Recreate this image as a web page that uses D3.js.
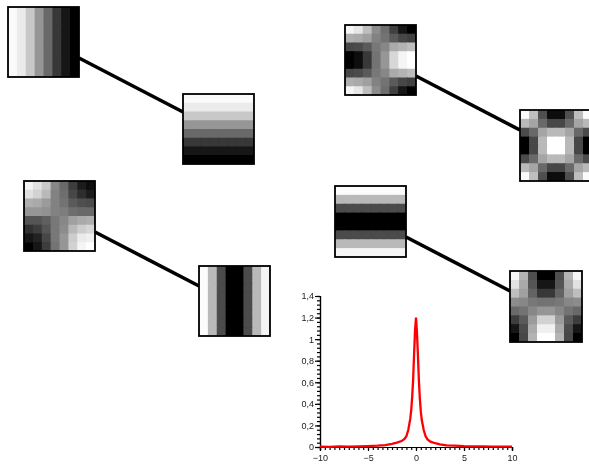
<!DOCTYPE html>
<html>
<head>
<meta charset="utf-8">
<script src="https://cdn.jsdelivr.net/npm/d3@7"></script>
<style>
  html, body { margin: 0; padding: 0; background: #fff; overflow: hidden; }
  svg { display: block; }
  text { font-family: "Liberation Sans", sans-serif; }
</style>
</head>
<body>
<svg id="chart"></svg>
<script>
// gray levels, 0 = black, 255 = white
const fallingStripes = [250, 235, 200, 150, 105, 55, 20, 0];
const evenStripes = [252, 185, 75, 0, 0, 75, 185, 245];

const diagonalCells = [
  [245, 225, 200, 135, 105, 60, 30, 10],
  [225, 210, 185, 130, 110, 70, 45, 30],
  [175, 170, 155, 130, 115, 90, 80, 75],
  [150, 150, 145, 130, 125, 110, 105, 105],
  [85, 85, 95, 120, 135, 160, 170, 175],
  [50, 60, 85, 120, 140, 185, 205, 215],
  [20, 35, 70, 120, 150, 205, 235, 240],
  [5, 20, 60, 115, 150, 210, 245, 255]
];
const sidewaysCells = [
  [245, 230, 190, 140, 110, 65, 20, 5],
  [175, 170, 160, 130, 115, 90, 70, 65],
  [70, 75, 90, 120, 135, 170, 180, 190],
  [0, 15, 55, 115, 150, 215, 245, 255],
  [0, 15, 55, 115, 150, 215, 245, 255],
  [70, 75, 90, 120, 135, 170, 180, 190],
  [175, 170, 160, 130, 115, 90, 70, 65],
  [245, 230, 190, 140, 110, 65, 20, 5]
];
const ringCells = [
  [250, 190, 80, 10, 10, 80, 190, 250],
  [185, 165, 105, 70, 70, 105, 165, 185],
  [75, 105, 165, 185, 185, 165, 105, 75],
  [0, 70, 185, 255, 255, 185, 70, 0],
  [0, 70, 185, 255, 255, 185, 70, 0],
  [75, 105, 165, 185, 185, 165, 105, 75],
  [185, 165, 105, 70, 70, 105, 165, 185],
  [250, 190, 80, 10, 10, 80, 190, 250]
];
const archCells = [
  [245, 180, 80, 5, 5, 80, 180, 245],
  [225, 170, 85, 20, 20, 85, 170, 225],
  [190, 160, 100, 55, 55, 100, 160, 190],
  [140, 135, 120, 115, 115, 120, 135, 140],
  [105, 115, 135, 150, 150, 135, 115, 105],
  [60, 90, 155, 210, 210, 155, 90, 60],
  [20, 75, 170, 240, 240, 170, 75, 20],
  [0, 70, 180, 255, 255, 180, 70, 0]
];

// red curve
const curveX = [-10, -9, -8, -7, -6, -5, -4, -3.2, -2.5, -2, -1.5, -1.2, -1, -0.8, -0.6, -0.5, -0.4, -0.3, -0.2, -0.1, 0,
  0.1, 0.2, 0.3, 0.4, 0.5, 0.6, 0.8, 1, 1.2, 1.5, 2, 2.5, 3.2, 4, 5, 6, 7, 8, 9, 10];
const curveY = [0.003, 0.002, 0.005, 0.004, 0.006, 0.009, 0.012, 0.018, 0.03, 0.04, 0.055, 0.075, 0.1, 0.16, 0.26, 0.34, 0.46, 0.62, 0.86, 1.08, 1.2,
  1.06, 0.85, 0.62, 0.45, 0.33, 0.25, 0.16, 0.1, 0.07, 0.05, 0.035, 0.025, 0.016, 0.012, 0.008, 0.006, 0.005, 0.004, 0.003, 0.003];

const xTicks = [-10, -5, 0, 5, 10];
const yTicks = [0, 0.2, 0.4, 0.6, 0.8, 1, 1.2, 1.4];

const width = 589, height = 466;
const svg = d3.select("#chart").attr("width", width).attr("height", height);

svg.append("defs").append("filter").attr("id", "soft")
  .attr("filterUnits", "userSpaceOnUse")
  .attr("x", 0).attr("y", 0).attr("width", width).attr("height", height)
  .append("feGaussianBlur").attr("stdDeviation", 0.75);

const root = svg.append("g").attr("filter", "url(#soft)");

const asColumns = (row) => d3.range(8).map(() => row);
const asRows = (row) => row.map((v) => d3.range(8).map(() => v));

// left/top/right/bottom of each pattern box
const panels = {
  a: { box: [8, 7, 79, 77], cells: asColumns(fallingStripes) },
  b: { box: [183, 94, 254, 164], cells: asRows(fallingStripes) },
  c: { box: [24, 181, 95, 251], cells: diagonalCells },
  d: { box: [199, 266, 270, 336], cells: asColumns(evenStripes) },
  e: { box: [345, 25, 416, 95], cells: sidewaysCells },
  f: { box: [520, 110, 592, 181], cells: ringCells },
  h: { box: [335, 186, 406, 257], cells: asRows(evenStripes) },
  g: { box: [510, 271, 582, 342], cells: archCells }
};

// connector leaves the right side of one box and lands on the left side of the other
const links = [
  { from: "a", to: "b", y0: 58, y1: 112 },
  { from: "c", to: "d", y0: 232, y1: 286 },
  { from: "e", to: "f", y0: 76, y1: 130 },
  { from: "h", to: "g", y0: 237, y1: 291 }
];

root.selectAll(".link").data(links).join("line")
  .attr("class", "link")
  .attr("x1", (d) => panels[d.from].box[2])
  .attr("y1", (d) => d.y0)
  .attr("x2", (d) => panels[d.to].box[0])
  .attr("y2", (d) => d.y1)
  .attr("stroke", "#000")
  .attr("stroke-width", 3.6);

Object.values(panels).forEach((p) => {
  const [x0, y0, x1, y1] = p.box;
  const cx = d3.scaleBand().domain(d3.range(8)).range([x0, x1]);
  const cy = d3.scaleBand().domain(d3.range(8)).range([y0, y1]);
  const g = root.append("g");
  p.cells.forEach((row, j) => {
    g.selectAll(null).data(row).join("rect")
      .attr("x", (v, i) => cx(i))
      .attr("y", cy(j))
      // one pixel of overlap so no seams show between the cells
      .attr("width", (v, i) => Math.min(cx.bandwidth() + 1, x1 - cx(i)))
      .attr("height", Math.min(cy.bandwidth() + 1, y1 - cy(j)))
      .attr("fill", (v) => d3.rgb(v, v, v));
  });
  g.append("rect")
    .attr("x", x0).attr("y", y0)
    .attr("width", x1 - x0).attr("height", y1 - y0)
    .attr("fill", "none")
    .attr("stroke", "#000")
    .attr("stroke-width", 1.8);
});

// small line chart
const x = d3.scaleLinear().domain([-10, 10]).range([320, 512]);
const y = d3.scaleLinear().domain([0, 1.4]).range([447, 296]);

const xMinor = d3.axisBottom(x).tickValues(d3.range(-10, 10.01, 0.5)).tickSize(3).tickFormat("");
const xMajor = d3.axisBottom(x).tickValues(xTicks).tickSize(4).tickPadding(4)
  .tickFormat((d) => String(d).replace("-", "\u2212"));
const yMinor = d3.axisLeft(y).tickValues(d3.range(0, 1.401, 0.04)).tickSize(3).tickFormat("");
const yMajor = d3.axisLeft(y).tickValues(yTicks).tickSize(5).tickPadding(1)
  .tickFormat((d) => String(d).replace(".", ","));

[xMinor, xMajor].forEach((ax) => {
  root.append("g").attr("transform", `translate(0,${y(0)})`).call(ax)
    .call((g) => g.selectAll("text").attr("font-size", 9).attr("fill", "#222").attr("font-family", "Liberation Sans"))
    .call((g) => g.selectAll("line,path").attr("stroke", "#000").attr("stroke-width", 1.2));
});
[yMinor, yMajor].forEach((ax) => {
  root.append("g").attr("transform", `translate(${x(-10)},0)`).call(ax)
    .call((g) => g.selectAll("text").attr("font-size", 9).attr("fill", "#222").attr("font-family", "Liberation Sans"))
    .call((g) => g.selectAll("line,path").attr("stroke", "#000").attr("stroke-width", 1.2));
});

const curve = d3.line().x((d) => x(d[0])).y((d) => y(d[1]));
root.append("path")
  .datum(d3.zip(curveX, curveY))
  .attr("d", curve)
  .attr("fill", "none")
  .attr("stroke", "#f00")
  .attr("stroke-width", 2.3);
</script>
</body>
</html>
